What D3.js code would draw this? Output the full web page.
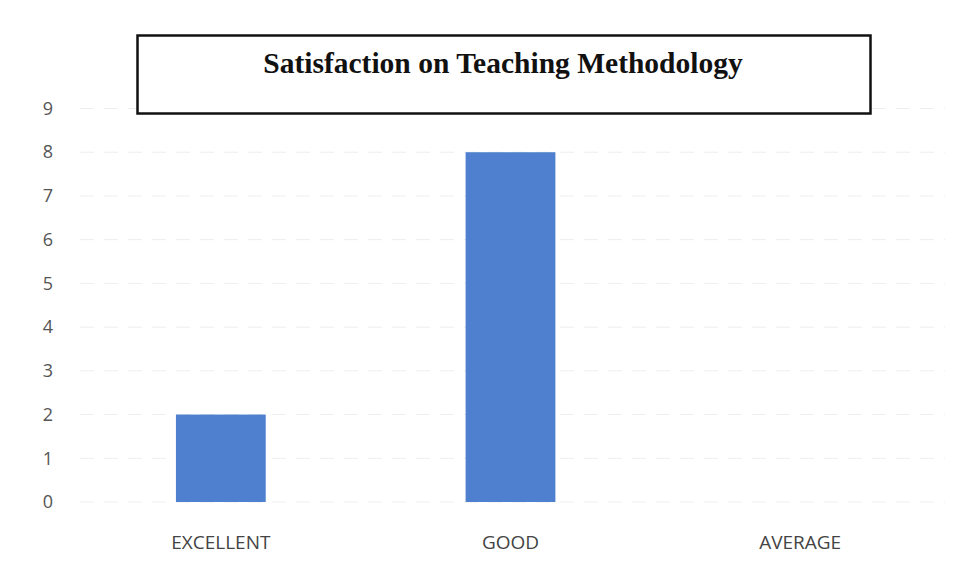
<!DOCTYPE html>
<html>
<head>
<meta charset="utf-8">
<script src="https://cdn.jsdelivr.net/npm/d3@7"></script>
<style>
  body { margin: 0; background: #fff; }
  svg { display: block; }
</style>
</head>
<body>
<svg width="961" height="581"></svg>
<script>
const categories = ["EXCELLENT", "GOOD", "AVERAGE"];
const counts = [2, 8, 0];
const yTicks = [0, 1, 2, 3, 4, 5, 6, 7, 8, 9];
const title = "Satisfaction on Teaching Methodology";

const svg = d3.select("svg"),
      width = +svg.attr("width"),
      height = +svg.attr("height");

const colors = {
  bar: "#4e80cf",
  grid: "#eeeeee",
  tick: "#555",
  box: "#111"
}

const x = d3.scaleBand()
  .domain(categories)
  .range([76, 945])
  .paddingInner(0.69)
  .paddingOuter(0.345);

const y = d3.scaleLinear()
  .domain([0, 9])
  .range([502, 108.5]);

// faint gridlines
svg.append("g")
  .selectAll("line")
  .data(yTicks).enter().append("line")
  .attr("x1", 80)
  .attr("x2", 945)
  .attr("y1", d => y(d))
  .attr("y2", d => y(d))
  .attr("stroke", colors.grid)
  .attr("stroke-dasharray", "14 10");

// y axis labels (no line)
const yAxis = d3.axisLeft(y).tickValues(yTicks).tickSize(0).tickPadding(0);
svg.append("g")
  .attr("transform", "translate(53,0)")
  .call(yAxis)
  .call(g => g.select(".domain").remove())
  .selectAll("text")
  .attr("font-family", "'Open Sans', sans-serif")
  .attr("font-size", 18)
  .attr("fill", colors.tick);

// bars
svg.append("g").selectAll("rect")
  .data(categories).enter().append("rect")
  .attr("x", d => x(d))
  .attr("width", x.bandwidth())
  .attr("y", (d, i) => y(counts[i]))
  .attr("height", (d, i) => y(0) - y(counts[i]))
  .attr("fill", colors.bar);

// x axis labels
const xAxis = d3.axisBottom(x).tickSize(0).tickPadding(0);
svg.append("g")
  .attr("transform", "translate(0,535)")
  .call(xAxis)
  .call(g => g.select(".domain").remove())
  .selectAll("text")
  .attr("font-family", "'Open Sans', sans-serif")
  .attr("font-size", 19)
  .attr("fill", "#444");

// title box
svg.append("rect")
  .attr("x", 137.5)
  .attr("y", 35.5)
  .attr("width", 733)
  .attr("height", 78)
  .attr("fill", "#fff")
  .attr("stroke", colors.box)
  .attr("stroke-width", 2.5);

svg.append("text")
  .attr("x", 503)
  .attr("y", 73)
  .attr("text-anchor", "middle")
  .attr("font-family", "'Liberation Serif', 'Times New Roman', serif")
  .attr("font-weight", "bold")
  .attr("font-size", 29.5)
  .attr("fill", "#111")
  .text(title);
</script>
</body>
</html>
